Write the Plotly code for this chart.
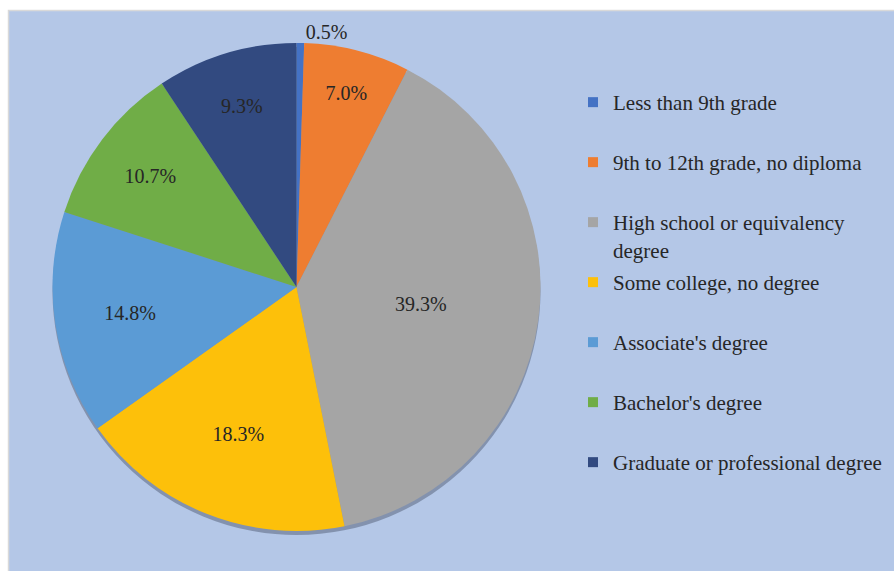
import plotly.graph_objects as go

# Educational attainment shares (percent)
categories = [
    "Less than 9th grade",
    "9th to 12th grade, no diploma",
    "High school or equivalency<br>degree",
    "Some college, no degree",
    "Associate's degree",
    "Bachelor's degree",
    "Graduate or professional degree",
]
shares = [0.5, 7.0, 39.3, 18.3, 14.8, 10.7, 9.3]
colors = ["#4472C4", "#EE7D31", "#A5A5A5", "#FDC00A", "#5B9BD5", "#70AD47", "#324A80"]
text_pos = ["outside", "inside", "inside", "inside", "inside", "inside", "inside"]

SERIF = "Liberation Serif"

W, H = 894, 571
cx, cy, r = 296.5, 287.0, 244.0
dom_x = [(cx - r) / W, (cx + r) / W]
dom_y = [1 - (cy + r) / H, 1 - (cy - r) / H]
shadow = 4.0

fig = go.Figure()

# soft shadow under the pie
fig.add_trace(go.Pie(
    values=[1], labels=["shadow"], marker=dict(colors=["rgba(40,50,70,0.35)"], line=dict(width=0)),
    domain=dict(x=dom_x, y=[dom_y[0] - shadow / H, dom_y[1] - shadow / H]),
    textinfo="none", hoverinfo="skip", showlegend=False, sort=False,
))

fig.add_trace(go.Pie(
    labels=categories,
    values=shares,
    sort=False,
    direction="clockwise",
    rotation=0,
    marker=dict(colors=colors, line=dict(color="rgba(255,255,255,0)", width=0)),
    texttemplate="%{value:.1f}%",
    textposition=text_pos,
    insidetextorientation="horizontal",
    textfont=dict(family=SERIF, size=20, color="#262626"),
    domain=dict(x=dom_x, y=dom_y),
    showlegend=False,
    hoverinfo="label+value",
))

# legend entries, one group each so the spacing can be set
for name, col in zip(categories, colors):
    label = name if "<br>" in name else name + "<br> "
    fig.add_trace(go.Scatter(
        x=[None], y=[None], mode="markers", name=label, legendgroup=name,
        marker=dict(symbol="square", size=10, color=col),
    ))

fig.update_layout(
    width=W, height=H,
    margin=dict(l=0, r=0, t=0, b=0),
    paper_bgcolor="white",
    plot_bgcolor="rgba(0,0,0,0)",
    font=dict(family=SERIF),
    xaxis=dict(visible=False),
    yaxis=dict(visible=False),
    showlegend=True,
    legend=dict(
        x=(613 - 40) / W, xanchor="left",
        y=1 - 82 / H, yanchor="top",
        font=dict(family=SERIF, size=21, color="#262626"),
        valign="top",
        tracegroupgap=2.4,
        bgcolor="rgba(0,0,0,0)",
        borderwidth=0,
    ),
    shapes=[dict(
        type="rect", xref="paper", yref="paper",
        x0=8.5 / W, x1=1.2, y0=-0.2, y1=1 - 10.5 / H,
        fillcolor="#B4C7E7", line=dict(color="#D9D9D9", width=1.5), layer="below",
    )],
)

fig.write_html("out.html")
